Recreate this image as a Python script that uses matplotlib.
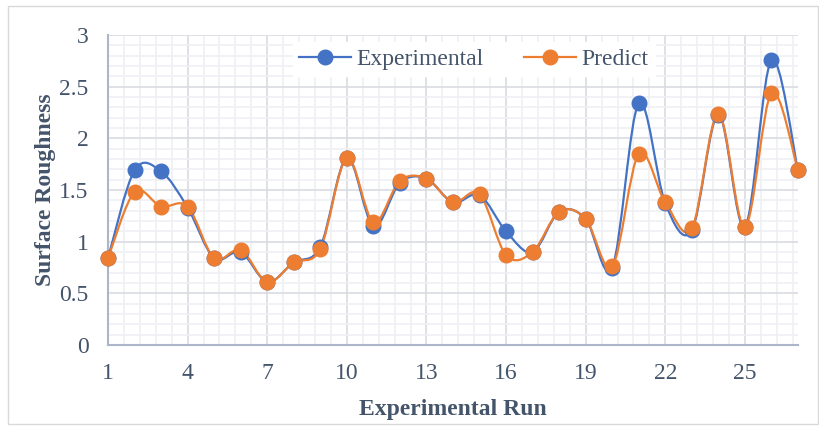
from matplotlib import pyplot as plt
from matplotlib.path import Path
from matplotlib.patches import PathPatch
from matplotlib.ticker import MultipleLocator, FormatStrFormatter
from matplotlib.lines import Line2D

# Data
runs = list(range(1, 28))
experimental = [0.84, 1.69, 1.68, 1.33, 0.84, 0.90, 0.61, 0.80, 0.95, 1.81,
                1.15, 1.57, 1.61, 1.38, 1.45, 1.10, 0.90, 1.29, 1.22, 0.75,
                2.34, 1.37, 1.11, 2.23, 1.14, 2.76, 1.69]
predict = [0.84, 1.48, 1.34, 1.34, 0.84, 0.92, 0.61, 0.80, 0.93, 1.81,
           1.19, 1.59, 1.61, 1.38, 1.46, 0.87, 0.90, 1.29, 1.22, 0.76,
           1.85, 1.38, 1.13, 2.24, 1.14, 2.44, 1.69]
series_names = ["Experimental", "Predict"]
x_tick_labels = [1, 4, 7, 10, 13, 16, 19, 22, 25]

BLUE = "#4472C4"
ORANGE = "#ED7D31"
TEXT = "#44546A"

plt.rcParams['font.family'] = ['Liberation Serif', 'DejaVu Serif']


def smoothPath(xs, ys):
    """Excel-like smoothed line: cubic bezier segments (catmull-rom control points)."""
    verts = [(xs[0], ys[0])]
    codes = [Path.MOVETO]
    n = len(xs)
    for i in range(n - 1):
        x0, y0 = (xs[i - 1], ys[i - 1]) if i > 0 else (xs[i], ys[i])
        x1, y1 = xs[i], ys[i]
        x2, y2 = xs[i + 1], ys[i + 1]
        x3, y3 = (xs[i + 2], ys[i + 2]) if i + 2 < n else (x2, y2)
        c1 = (x1 + (x2 - x0) / 6, y1 + (y2 - y0) / 6)
        c2 = (x2 - (x3 - x1) / 6, y2 - (y3 - y1) / 6)
        verts += [c1, c2, (x2, y2)]
        codes += [Path.CURVE4] * 3
    return Path(verts, codes)


fig = plt.figure(figsize=(8.19, 4.26), dpi=100)
ax = fig.add_axes([108 / 819, 1 - 345 / 426, 690 / 819, 310 / 426])

# outer chart border
fig.patches.append(plt.Rectangle((8 / 819, 2 / 426), 810 / 819, 418 / 426, transform=fig.transFigure,
                                 fill=False, edgecolor="#D9D9D9", linewidth=1))

for ys, color in [(experimental, BLUE), (predict, ORANGE)]:
    ax.add_patch(PathPatch(smoothPath(runs, ys), facecolor="none", edgecolor=color, linewidth=1.6,
                           zorder=3, clip_on=False))
    ax.plot(runs, ys, linestyle="none", marker="o", markersize=10.5, color=color,
            markeredgecolor=color, zorder=4, clip_on=False)

ax.set_xlim(1, 27)
ax.set_ylim(0, 3)
ax.set_xticks(x_tick_labels)
ax.xaxis.set_minor_locator(MultipleLocator(0.6, offset=1))
ax.yaxis.set_major_locator(MultipleLocator(0.5))
ax.yaxis.set_minor_locator(MultipleLocator(0.1))
ax.yaxis.set_major_formatter(FormatStrFormatter("%g"))

ax.grid(which="major", color="#D9DCE3", linewidth=1.2, zorder=0)
ax.grid(which="minor", color="#EEF0F4", linewidth=1.2, zorder=0)
ax.set_axisbelow(True)
ax.tick_params(which="both", length=0, labelsize=17, colors=TEXT)
ax.tick_params(axis="x", pad=13)
ax.tick_params(axis="y", pad=14)

for side in ["top", "right"]:
    ax.spines[side].set_visible(False)
for side in ["left", "bottom"]:
    ax.spines[side].set_color("#ACB6C8")
    ax.spines[side].set_linewidth(1.5)
    ax.spines[side].set_zorder(2)

ax.set_xlabel("Experimental Run", fontsize=17, fontweight="bold", color=TEXT, labelpad=11)
ax.set_ylabel("Surface Roughness", fontsize=17, fontweight="bold", color=TEXT, labelpad=2)

handles = [Line2D([], [], color=c, linewidth=1.6, marker="o", markersize=10.5) for c in (BLUE, ORANGE)]
leg = ax.legend(handles, series_names, loc="upper center", bbox_to_anchor=(0.53, 0.999), ncol=2,
                fontsize=17, frameon=True, fancybox=False, handlelength=2.2, columnspacing=1.7,
                handletextpad=0.25, borderpad=0.25, borderaxespad=0.3, labelcolor=TEXT)
leg.get_frame().set_facecolor("white")
leg.get_frame().set_edgecolor("white")
leg.get_frame().set_alpha(1)
leg.set_zorder(5)

plt.savefig("out.png", dpi=100)
